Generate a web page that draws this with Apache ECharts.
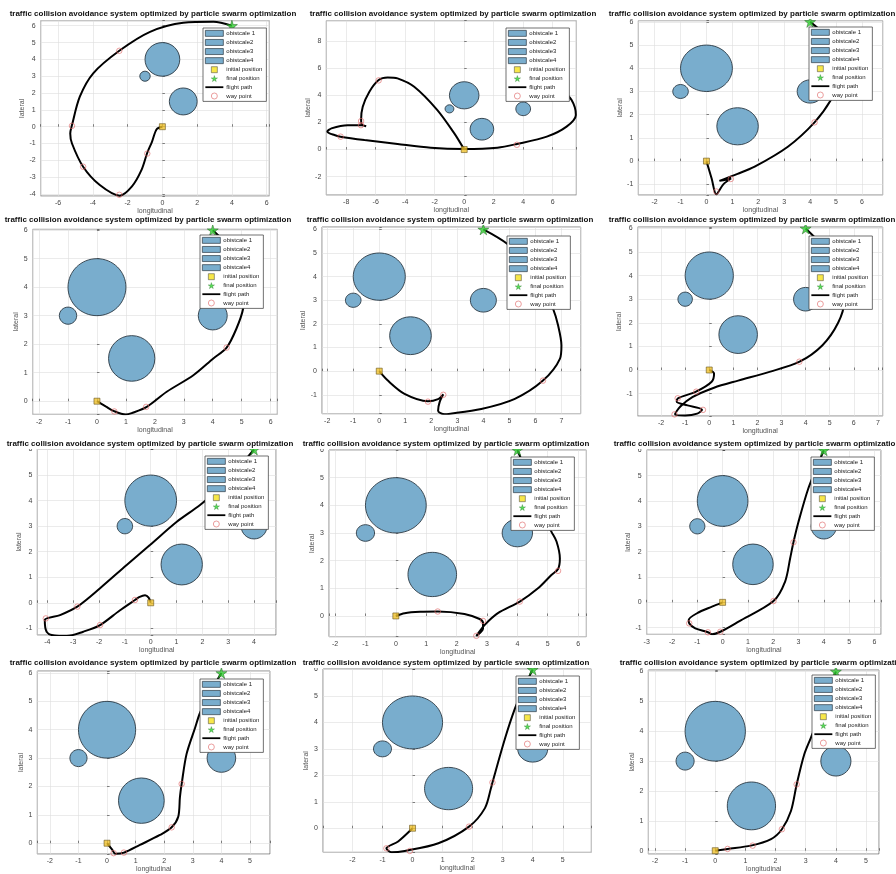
<!DOCTYPE html>
<html>
<head>
<meta charset="utf-8">
<script src="https://cdn.jsdelivr.net/npm/echarts@6/dist/echarts.min.js"></script>
<style>
  html, body { margin: 0; padding: 0; background: #fff; }
  #main { width: 896px; height: 874px; }
</style>
</head>
<body>
<div id="main"></div>
<script>
  var titleText = 'traffic collision avoidance system optimized by particle swarm optimization';

  var obstacleNames = ['obistcale 1', 'obistcale2', 'obistcale3', 'obistcale4'];
  var obstacleX = [0, -1, 1.2, 4];
  var obstacleY = [4, 3, 1.5, 3];
  var obstacleR = [1, 0.3, 0.8, 0.5];

  var startPoint = [0, 0];
  var endPoint = [4, 6];

  // axis extents / tick steps for each panel (row by row)
  var xMin = [-7, -9.35, -2.63, -2.22, -2.2, -2.97, -4.39, -2.2, -3.0, -2.44, -2.98, -2.22];
  var xMax = [6.15, 7.6, 6.8, 6.23, 7.74, 7.2, 4.85, 6.27, 6.26, 5.7, 5.95, 5.43];
  var xStep = [2, 2, 1, 1, 1, 1, 1, 1, 1, 1, 1, 1];
  var yMin = [-4.12, -3.35, -1.46, -0.46, -1.8, -1.95, -1.26, -0.75, -1.26, -0.38, -0.91, -0.11];
  var yMax = [6.3, 9.5, 6.05, 6.03, 6.1, 6.06, 6.02, 6.0, 6.01, 6.07, 6.02, 6.05];
  var yStep = [1, 2, 1, 1, 1, 1, 1, 1, 1, 1, 1, 1];

  var flightPaths = [
    [[0,0],[-0.33,-0.15],[-0.6,-0.9],[-0.87,-1.55],[-1.2,-2.57],[-1.75,-3.55],[-2.45,-4.1],[-3.6,-3.47],[-4.56,-2.38],[-5.2,-1.0],[-5.3,-0.4],[-5.2,0.1],[-4.75,1.78],[-3.98,3.17],[-2.48,4.51],[-0.71,5.64],[1.2,6.18],[2.94,6.24],[4,6]],
    [[0,0],[-0.67,1.19],[-1.82,2.91],[-3.39,4.63],[-4.52,5.25],[-5.19,5.32],[-5.8,5.13],[-6.43,4.27],[-6.88,3.16],[-6.99,2.2],[-6.95,1.85],[-6.65,1.72],[-6.95,1.8],[-7.9,1.8],[-9.0,1.56],[-9.28,1.32],[-8.8,1.07],[-8.38,0.95],[-6.76,0.7],[-4.52,0.41],[-2.27,0.14],[0,0.05],[2.25,0.14],[3.57,0.41],[5.6,0.95],[6.94,1.69],[7.57,2.55],[7.28,3.65],[6.49,4.51],[5.3,5.4],[4,6]],
    [[0,0],[0.2,-0.75],[0.38,-1.43],[0.65,-1.0],[0.95,-0.75],[0.75,-0.8],[0.5,-0.85],[1.2,-0.55],[1.86,-0.24],[3.14,0.62],[4.17,1.67],[4.8,2.63],[5.13,3.49],[5.05,4.5],[4.6,5.4],[4,6]],
    [[0,0],[0.3,-0.18],[0.57,-0.34],[1.0,-0.47],[1.2,-0.42],[1.72,-0.2],[2.41,0.33],[3.33,0.91],[4.02,1.5],[4.48,1.88],[4.82,2.55],[5.05,3.25],[5.1,4.1],[4.8,5.0],[4.3,5.7],[4,6]],
    [[0,0],[0.33,-0.4],[0.97,-0.96],[1.87,-1.27],[2.26,-1.18],[2.46,-0.98],[2.32,-1.31],[2.26,-1.67],[2.51,-1.82],[2.67,-1.81],[3.92,-1.6],[5.21,-1.17],[6.29,-0.4],[6.94,0.52],[7.0,1.09],[6.87,1.94],[6.68,2.64],[6.3,3.5],[5.6,4.6],[4.9,5.4],[4,6]],
    [[0,0],[0.2,-0.15],[0.1,-0.5],[-0.55,-0.92],[-1.3,-1.2],[-1.35,-1.35],[-0.9,-1.5],[-0.3,-1.68],[-0.5,-1.85],[-1.0,-1.93],[-1.42,-1.88],[-1.2,-1.55],[-0.7,-1.15],[0.2,-0.75],[1.2,-0.45],[2.5,-0.08],[3.75,0.35],[4.7,1.05],[5.35,2.0],[5.6,2.9],[5.5,3.9],[5.0,4.9],[4.4,5.6],[4,6]],
    [[0,0],[-0.08,0.2],[-0.22,0.3],[-0.45,0.22],[-0.61,0.11],[-1.2,-0.3],[-1.96,-0.87],[-2.61,-1.13],[-3.25,-1.3],[-3.74,-1.28],[-4.03,-1.13],[-4.1,-0.67],[-3.51,-0.48],[-2.84,-0.15],[-1.96,0.57],[-0.93,1.48],[-0.03,2.26],[1.01,3.17],[1.91,3.83],[2.8,4.6],[3.5,5.4],[4,6]],
    [[0,0],[0.29,0.1],[0.8,0.15],[1.38,0.16],[2.26,0.07],[2.76,-0.11],[2.87,-0.25],[2.87,-0.45],[2.65,-0.72],[2.92,-0.33],[3.36,0.1],[4.08,0.52],[4.68,1.0],[5.12,1.48],[5.34,1.7],[5.4,2.08],[5.29,2.69],[5.12,3.05],[4.7,4.0],[4.3,5.2],[4,6]],
    [[0,0],[-0.42,-0.17],[-1.01,-0.43],[-1.34,-0.7],[-1.32,-0.83],[-1.08,-1.03],[-0.58,-1.18],[-0.42,-1.26],[-0.09,-1.16],[0.63,-0.76],[2.01,0.05],[2.47,0.82],[2.67,1.74],[2.8,2.37],[3.0,3.18],[3.39,4.5],[3.79,5.49],[4,6]],
    [[0,0],[0.18,-0.23],[0.29,-0.37],[0.59,-0.33],[1.15,-0.06],[1.85,0.29],[2.26,0.56],[2.49,0.93],[2.55,1.63],[2.61,2.09],[2.78,3.14],[3.08,4.07],[3.25,4.59],[3.6,5.3],[4,6]],
    [[0,0],[-0.48,-0.5],[-0.87,-0.76],[-0.7,-0.91],[-0.26,-0.86],[0.86,-0.57],[1.88,0.06],[2.41,0.76],[2.61,1.51],[2.66,1.73],[3.08,3.4],[3.41,4.53],[3.7,5.3],[4,6]],
    [[0,0],[0.41,0.06],[1.18,0.17],[1.85,0.39],[2.21,0.72],[2.51,1.33],[2.7,2.22],[2.95,3.22],[3.17,3.78],[3.6,4.9],[4,6]]
  ];

  var wayPoints = [
    [[-0.87,-1.6],[-2.48,-4.05],[-4.56,-2.38],[-5.2,0.05],[-2.48,4.51]],
    [[-5.8,5.1],[-6.99,2.1],[-7.0,1.8],[-8.38,0.95],[3.57,0.35]],
    [[0.38,-1.31],[0.94,-0.77],[4.17,1.67]],
    [[0.6,-0.36],[1.0,-0.47],[1.7,-0.2],[4.48,1.88]],
    [[1.87,-1.29],[2.46,-1.0],[2.67,-1.81],[6.29,-0.4]],
    [[-0.54,-0.92],[-1.31,-1.2],[-0.26,-1.69],[-1.44,-1.88],[3.74,0.35]],
    [[-0.61,0.11],[-1.96,-0.87],[-3.74,-1.28],[-4.06,-0.61],[-2.84,-0.15]],
    [[1.38,0.16],[2.87,-0.18],[2.65,-0.72],[4.08,0.52],[5.34,1.63]],
    [[-1.32,-0.83],[-0.58,-1.18],[-0.09,-1.16],[2.01,0.05],[2.8,2.37]],
    [[0.23,-0.35],[0.59,-0.33],[2.26,0.56],[2.61,2.09]],
    [[-0.87,-0.76],[-0.09,-0.86],[1.88,0.06],[2.66,1.73]],
    [[0.41,0.06],[1.24,0.17],[2.21,0.72],[2.7,2.22]]
  ];

  // ---- layout (pixels) ----
  var gridBoxes = [
    [40.7, 20.7, 228.6, 175.3], [326.3, 20.7, 250, 174.3], [638.3, 20.7, 244.4, 174.3],
    [32.7, 229.3, 244.6, 185], [322, 227, 258.7, 186.7], [637.7, 227, 245, 189],
    [37.3, 449, 238.7, 186], [329, 450, 257.3, 186.7], [646.7, 450, 234.3, 184.3],
    [37.3, 671, 232.7, 185], [323, 669, 268.3, 183.3], [648.3, 670, 230.7, 185]
  ];
  var legendPos = [
    [203, 28], [506, 28], [809, 27],
    [200, 235], [507, 236], [809, 236],
    [205, 456], [511, 457], [811, 457],
    [200, 679], [516, 676], [812, 675]
  ];
  var titlePos = [
    [153, 9], [453, 9], [752, 9],
    [148, 215], [450, 215], [752, 215],
    [150, 439], [446, 439], [757, 439],
    [153, 658], [446, 658], [763, 658]
  ];

  var OB_FILL = '#79adcd';
  var OB_EDGE = '#2c3a44';
  var WP_RED = '#e06868';
  var STAR = 'path://M50,0 L61,35 L98,35 L68,57 L79,91 L50,70 L21,91 L32,57 L2,35 L39,35 Z';
  var SQUARE = 'path://M0,0 L10,0 L10,10 L0,10 Z';
  var LINE_ICON = 'path://M0,0 L30,0 L30,3 L0,3 Z';

  function renderObstacle(params, api) {
    var c = api.coord([api.value(0), api.value(1)]);
    var s = api.size([api.value(2), api.value(2)]);
    return {
      type: 'ellipse',
      shape: { cx: c[0], cy: c[1], rx: s[0], ry: s[1] },
      style: { fill: OB_FILL, stroke: OB_EDGE, lineWidth: 0.9 }
    };
  }

  function tickFormatter(step) {
    return function (v) {
      var k = v / step;
      return Math.abs(k - Math.round(k)) < 1e-6 ? String(Math.round(v)) : '';
    };
  }

  function makeAxis(i, min, max, step, name, gap, isY) {
    return {
      gridIndex: i,
      type: 'value',
      min: min,
      max: max,
      minInterval: step,
      maxInterval: step,
      splitNumber: 8,
      name: name,
      nameLocation: 'middle',
      nameGap: gap,
      nameTextStyle: { fontSize: 7, color: '#555' },
      axisLine: { show: false },
      axisTick: { show: true, inside: true, length: 2.5, lineStyle: { color: '#333', width: 0.6 } },
      axisLabel: { fontSize: 7, color: '#444', margin: isY ? 5 : 4, formatter: tickFormatter(step) },
      splitLine: { show: true, lineStyle: { color: '#dedede', width: 0.6 } }
    };
  }

  var legendData = [
    { name: 'obistcale 1', icon: 'rect', itemStyle: { color: OB_FILL, borderColor: OB_EDGE, borderWidth: 0.7 } },
    { name: 'obistcale2', icon: 'rect', itemStyle: { color: OB_FILL, borderColor: OB_EDGE, borderWidth: 0.7 } },
    { name: 'obistcale3', icon: 'rect', itemStyle: { color: OB_FILL, borderColor: OB_EDGE, borderWidth: 0.7 } },
    { name: 'obistcale4', icon: 'rect', itemStyle: { color: OB_FILL, borderColor: OB_EDGE, borderWidth: 0.7 } },
    { name: 'initial position', icon: SQUARE, itemStyle: { color: '#f5e11c', borderColor: '#333', borderWidth: 0.6 } },
    { name: 'final position', icon: STAR, itemStyle: { color: '#2fd22f', borderColor: '#1d6a1d', borderWidth: 0.4 } },
    { name: 'flight path', icon: LINE_ICON, itemStyle: { color: '#000', borderWidth: 0 } },
    { name: 'way point', icon: 'circle', itemStyle: { color: 'rgba(255,255,255,0)', borderColor: WP_RED, borderWidth: 0.8 } }
  ];

  var grids = [], xAxes = [], yAxes = [], series = [], titles = [], legends = [];

  for (var i = 0; i < 12; i++) {
    var b = gridBoxes[i];
    grids.push({
      left: b[0], top: b[1], width: b[2], height: b[3],
      show: true, backgroundColor: '#fff', borderColor: '#3a3a3a', borderWidth: 0.6
    });
    xAxes.push(makeAxis(i, xMin[i], xMax[i], xStep[i], 'longitudinal', 12, false));
    yAxes.push(makeAxis(i, yMin[i], yMax[i], yStep[i], 'lateral', 13, true));

    titles.push({
      text: titleText,
      left: titlePos[i][0],
      top: titlePos[i][1],
      textAlign: 'center',
      padding: [1, 0],
      backgroundColor: '#fff',
      textStyle: { fontSize: 8, fontWeight: 'bold', color: '#111' }
    });

    legends.push({
      left: legendPos[i][0],
      top: legendPos[i][1],
      z: 20,
      orient: 'vertical',
      selectedMode: false,
      itemWidth: 18,
      itemHeight: 6,
      itemGap: 2.4,
      padding: [2, 4, 2, 2],
      backgroundColor: '#fff',
      borderColor: '#333',
      borderWidth: 0.7,
      borderRadius: 0,
      textStyle: { fontSize: 6, color: '#222', padding: [0, 0, 0, -2] },
      data: legendData
    });

    for (var k = 0; k < 4; k++) {
      series.push({
        type: 'custom',
        name: obstacleNames[k],
        xAxisIndex: i,
        yAxisIndex: i,
        renderItem: renderObstacle,
        itemStyle: { color: OB_FILL },
        silent: true,
        z: 2,
        data: [[obstacleX[k], obstacleY[k], obstacleR[k]]]
      });
    }
    series.push({
      type: 'line',
      name: 'flight path',
      xAxisIndex: i,
      yAxisIndex: i,
      data: flightPaths[i],
      smooth: 0.3,
      showSymbol: false,
      symbol: 'none',
      lineStyle: { color: '#000', width: 2 },
      itemStyle: { color: '#000' },
      z: 3
    });
    series.push({
      type: 'scatter',
      name: 'way point',
      xAxisIndex: i,
      yAxisIndex: i,
      data: wayPoints[i],
      symbol: 'circle',
      symbolSize: 5.5,
      itemStyle: { color: 'rgba(255,255,255,0)', borderColor: WP_RED, borderWidth: 0.8 },
      z: 4
    });
    series.push({
      type: 'scatter',
      name: 'initial position',
      xAxisIndex: i,
      yAxisIndex: i,
      data: [startPoint],
      symbol: 'rect',
      symbolSize: 6,
      itemStyle: { color: '#efc12c', borderColor: '#5b4a12', borderWidth: 0.7 },
      z: 5
    });
    series.push({
      type: 'scatter',
      name: 'final position',
      xAxisIndex: i,
      yAxisIndex: i,
      data: [endPoint],
      symbol: STAR,
      symbolSize: 11,
      itemStyle: { color: '#2fcf2f', borderColor: '#1d5e1d', borderWidth: 0.6 },
      z: 5
    });
  }

  var chart = echarts.init(document.getElementById('main'));
  chart.setOption({
    animation: false,
    backgroundColor: '#fff',
    textStyle: { fontFamily: 'Liberation Sans, Arial, sans-serif' },
    title: titles,
    legend: legends,
    grid: grids,
    xAxis: xAxes,
    yAxis: yAxes,
    series: series
  });
</script>
</body>
</html>
